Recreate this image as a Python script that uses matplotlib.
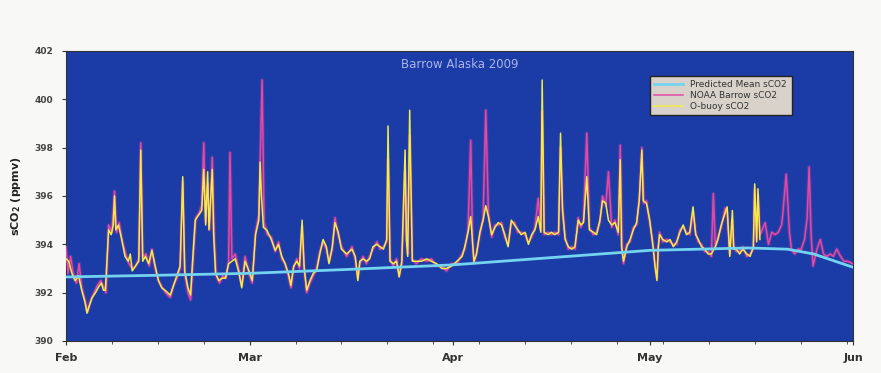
import matplotlib
matplotlib.use("Agg")
import matplotlib.pyplot as plt
import matplotlib.dates as mdates
import numpy as np
import pandas as pd

START = pd.Timestamp("2009-02-01")

# Predicted mean sCO2 (day offset from Feb 1, ppmv)
mean_days = [0, 14, 28, 42, 59, 74, 89, 104, 110, 114, 120]
mean_vals = [392.65, 392.72, 392.8, 392.95, 393.15, 393.45, 393.75, 393.85, 393.8, 393.6, 393.05]

# O-buoy sCO2 (day offset, ppmv)
obuoy_days = [
    0.0, 0.4, 0.9, 1.4, 1.9, 2.4, 2.9, 3.2, 3.6, 4.0, 4.5, 5.0, 5.4, 5.7, 6.0, 6.5, 6.9, 7.2, 7.4, 7.6,
    8.0, 8.5, 9.0, 9.5, 9.8, 10.1, 10.6, 11.1, 11.4, 11.7, 12.1, 12.6, 13.1, 13.6, 14.1, 14.6, 15.1,
    15.5, 15.9, 16.4, 16.9, 17.4, 17.8, 18.1, 18.6, 19.0, 19.3, 19.7, 20.2, 20.7, 21.0, 21.3, 21.6,
    21.8, 22.3, 22.5, 22.8, 23.3, 23.8, 24.3, 24.8, 25.3, 25.8, 26.3, 26.8, 27.3, 27.9, 28.4, 28.9,
    29.4, 29.6, 29.8, 30.1, 30.6, 31.3, 31.9, 32.4, 32.9, 33.4, 33.9, 34.3, 34.7, 35.2, 35.6, 36.0,
    36.3, 36.7, 37.2, 37.7, 38.2, 38.7, 39.2, 39.7, 40.1, 40.6, 41.0, 41.5, 42.0, 42.8, 43.6, 44.1,
    44.5, 44.8, 45.3, 45.8, 46.3, 46.8, 47.4, 47.9, 48.4, 48.9, 49.1, 49.4, 49.9, 50.4, 50.8, 51.2,
    51.7, 51.9, 52.1, 52.4, 52.8, 53.4, 54.2, 55.0, 55.7, 56.5, 57.3, 58.0, 58.8, 59.6, 60.4, 60.8,
    61.3, 61.7, 62.2, 62.6, 63.1, 63.6, 64.0, 64.4, 64.9, 65.4, 65.9, 66.4, 66.9, 67.4, 67.9, 68.4,
    68.9, 69.4, 70.0, 70.5, 71.0, 71.5, 72.0, 72.4, 72.6, 72.9, 73.5, 74.0, 74.5, 75.1, 75.4, 75.7,
    76.1, 76.6, 77.1, 77.6, 78.1, 78.5, 78.9, 79.4, 79.8, 80.4, 80.9, 81.4, 81.8, 82.3, 82.7, 83.2,
    83.7, 84.2, 84.5, 84.7, 85.0, 85.5, 86.0, 86.5, 87.0, 87.4, 87.8, 88.0, 88.5, 89.0, 89.5, 89.8,
    90.1, 90.3, 90.5, 91.0, 91.6, 92.1, 92.6, 93.1, 93.6, 94.1, 94.6, 95.1, 95.6, 96.0, 96.4, 96.9,
    97.4, 97.9, 98.4, 99.0, 99.4, 99.9, 100.5, 100.8, 101.2, 101.6, 101.8, 102.2, 102.7, 103.2,
    103.8, 104.3, 104.8, 105.0, 105.3, 105.5, 105.8,
]
obuoy_vals = [
    393.4, 393.3, 392.8, 392.5, 392.7, 392.1, 391.6, 391.15, 391.5, 391.8, 392.0, 392.25, 392.4, 392.1,
    392.1, 394.6, 394.4, 394.8, 396.0, 394.6, 394.8, 394.2, 393.5, 393.3, 393.6, 392.9, 393.1, 393.3,
    397.9, 393.3, 393.5, 393.2, 393.75, 393.1, 392.5, 392.2, 392.1, 392.0, 391.9, 392.3, 392.7, 393.1,
    396.8, 392.9, 392.2, 391.9, 393.3, 395.0, 395.2, 395.4, 397.1, 394.8, 397.0, 394.6, 397.1, 394.5,
    392.8, 392.5, 392.6, 392.6, 393.2, 393.3, 393.4, 392.9, 392.2, 393.3, 392.9, 392.5, 394.4, 395.0,
    397.4, 396.0, 394.7, 394.6, 394.2, 393.75, 394.0, 393.5, 393.2, 392.8, 392.3, 393.1, 393.3, 393.1,
    395.0, 393.1, 392.1, 392.5, 392.8, 392.9, 393.6, 394.2, 393.9, 393.2, 393.9, 394.9, 394.5, 393.8,
    393.6, 393.8, 393.5, 392.5, 393.3, 393.4, 393.3, 393.4, 393.9, 394.0, 393.9, 393.8, 394.2, 398.9,
    393.3, 393.2, 393.3, 392.65, 393.3, 397.9, 394.2, 393.5, 399.55, 393.3, 393.3, 393.3, 393.4, 393.3,
    393.2, 393.0, 393.0, 393.1, 393.3, 393.5, 393.9, 394.5, 395.15, 393.3, 393.6, 394.5, 395.0, 395.6,
    395.15, 394.4, 394.7, 394.9, 394.8, 394.4, 393.9, 395.0, 394.8, 394.6, 394.4, 394.5, 394.0, 394.4,
    394.6, 395.15, 394.5, 400.8, 394.5, 394.4, 394.5, 394.4, 394.5, 398.6, 395.4, 394.2, 393.9, 393.8,
    393.9, 395.0, 394.8, 394.9, 396.8, 394.6, 394.5, 394.4, 395.0, 395.8, 395.7, 395.0, 394.8, 394.9,
    394.5, 397.5, 393.9, 393.3, 393.9, 394.2, 394.6, 394.9, 395.8, 397.9, 395.8, 395.7, 395.0, 393.9,
    393.1, 392.5, 393.9, 394.4, 394.2, 394.1, 394.2, 393.9, 394.1, 394.5, 394.8, 394.4, 394.5, 395.55,
    394.4, 394.2, 393.9, 393.8, 393.6, 393.6, 393.9, 394.2, 394.8, 395.3, 395.55, 393.5, 395.4, 393.8,
    393.8, 393.6, 393.8, 393.6, 393.5, 393.9, 396.5, 394.1, 396.3, 394.2,
]

# NOAA Barrow sCO2 (day offset, ppmv)
noaa_days = [
    0.0, 0.3, 0.7, 1.2, 1.6, 2.0, 2.4, 2.9, 3.3, 3.8, 4.3, 4.8, 5.3, 5.8, 6.1, 6.5, 7.0, 7.4, 7.7, 8.1,
    8.6, 9.1, 9.6, 10.1, 10.6, 11.1, 11.4, 11.7, 12.2, 12.7, 13.1, 13.6, 14.1, 14.7, 15.2, 15.9, 16.4,
    16.9, 17.4, 17.8, 18.1, 18.6, 19.0, 19.4, 19.8, 20.3, 20.7, 21.0, 21.3, 21.6, 21.9, 22.3, 22.6,
    22.9, 23.4, 23.9, 24.4, 24.8, 25.0, 25.3, 25.8, 26.3, 26.8, 27.3, 27.9, 28.4, 28.9, 29.4, 29.9,
    30.2, 30.7, 31.3, 31.9, 32.4, 32.9, 33.4, 33.9, 34.3, 34.7, 35.2, 35.6, 36.0, 36.3, 36.7, 37.2,
    37.7, 38.2, 38.7, 39.2, 39.7, 40.1, 40.6, 41.0, 41.5, 42.0, 42.8, 43.6, 44.1, 44.5, 44.8, 45.3,
    45.8, 46.3, 46.8, 47.4, 47.9, 48.4, 48.9, 49.1, 49.4, 49.9, 50.4, 50.8, 51.2, 51.7, 51.9, 52.1,
    52.4, 52.8, 53.4, 54.2, 55.0, 55.7, 56.5, 57.3, 58.0, 58.8, 59.6, 60.4, 60.8, 61.3, 61.7, 62.0,
    62.2, 62.6, 63.1, 63.6, 64.0, 64.4, 64.9, 65.4, 65.9, 66.4, 66.9, 67.4, 67.9, 68.4, 68.9, 69.4,
    70.0, 70.5, 71.0, 71.5, 72.0, 72.4, 72.6, 72.9, 73.5, 74.0, 74.5, 75.1, 75.4, 75.7, 76.1, 76.6,
    77.1, 77.6, 78.1, 78.5, 78.9, 79.4, 79.8, 80.4, 80.9, 81.4, 81.8, 82.3, 82.7, 83.2, 83.7, 84.2,
    84.5, 84.8, 85.0, 85.5, 86.0, 86.5, 87.0, 87.4, 87.8, 88.1, 88.5, 89.0, 89.5, 89.8, 90.1, 90.3,
    90.5, 91.0, 91.6, 92.1, 92.6, 93.1, 93.6, 94.1, 94.6, 95.1, 95.6, 96.0, 96.4, 96.9, 97.4, 97.9,
    98.4, 98.7, 99.0, 99.4, 99.9, 100.5, 100.8, 101.2, 101.6, 101.8, 102.2, 102.7, 103.2, 103.8,
    104.3, 104.8, 105.0, 105.3, 105.5, 105.8, 106.0, 106.6, 107.1, 107.6, 108.1, 108.6, 109.1, 109.3,
    109.8, 110.3, 110.6, 111.1, 111.6, 112.1, 112.6, 113.0, 113.3, 113.6, 113.9, 114.5, 115.0, 115.5,
    116.0, 116.5, 117.0, 117.5, 118.1, 118.6, 119.2, 119.9,
]
noaa_vals = [
    393.9, 392.8, 393.5, 392.6, 392.4, 393.2, 392.2, 391.7, 391.2, 391.7, 392.0, 392.3, 392.5, 392.2,
    392.0, 394.8, 394.5, 396.2, 394.5, 394.9, 394.1, 393.6, 393.2, 393.0, 393.1, 393.4, 398.2, 393.5,
    393.6, 393.1, 393.8, 393.0, 392.5, 392.2, 392.0, 391.8, 392.3, 392.6, 393.0, 396.6, 392.8, 392.0,
    391.7, 393.5, 395.1, 395.3, 395.6, 398.2, 394.9, 396.5, 394.6, 397.6, 394.3, 392.7, 392.4, 392.7,
    392.6, 393.3, 397.8, 393.4, 393.6, 393.0, 392.3, 393.5, 392.8, 392.4, 394.5, 395.2, 400.8, 394.9,
    394.4, 394.3, 393.7, 394.1, 393.4, 393.2, 392.7, 392.2, 393.0, 393.4, 393.0, 394.7, 393.0, 392.0,
    392.4, 392.7, 393.0, 393.7, 394.1, 393.8, 393.3, 393.8, 395.1, 394.4, 393.9, 393.5, 393.9, 393.4,
    392.6, 393.2, 393.5, 393.2, 393.5, 393.8, 394.1, 393.8, 393.9, 394.1, 397.5, 393.4, 393.1, 393.4,
    392.7, 393.2, 397.0, 394.5, 393.6, 398.5, 393.4, 393.2, 393.4, 393.3, 393.4, 393.1, 393.1, 392.9,
    393.2, 393.2, 393.6, 393.8, 394.6, 398.3, 394.0, 393.2, 393.7, 394.4, 395.1, 399.55, 395.3, 394.3,
    394.8, 394.8, 394.9, 394.3, 394.0, 394.9, 394.9, 394.5, 394.5, 394.4, 394.1, 394.3, 394.7, 395.9,
    394.6, 399.5, 394.4, 394.5, 394.4, 394.5, 394.4, 398.0, 395.6, 394.3, 393.8, 393.9, 393.8, 395.1,
    394.7, 395.0, 398.6, 394.7, 394.4, 394.5, 394.9, 396.0, 395.6, 397.0, 394.7, 395.0, 394.4, 398.1,
    393.8, 393.2, 394.0, 394.1, 394.7, 394.8, 395.9, 398.0, 395.7, 395.8, 394.9, 394.0, 393.2, 392.6,
    393.8, 394.5, 394.1, 394.2, 394.1, 394.0, 394.0, 394.6, 394.7, 394.5, 394.4, 395.3, 394.5, 394.1,
    394.0, 393.7, 393.7, 393.5, 396.1, 393.9, 394.3, 394.7, 395.5, 395.3, 393.6, 395.0, 393.9, 393.7,
    393.7, 393.9, 393.5, 393.6, 393.8, 396.3, 394.2, 396.0, 394.4, 394.5, 394.9, 394.0, 394.5, 394.4,
    394.5, 394.8, 395.3, 396.9, 394.5, 393.8, 393.6, 393.8, 393.8, 394.2, 395.1, 397.2, 394.4, 393.1,
    393.8, 394.2, 393.6, 393.5, 393.6, 393.5, 393.8, 393.5, 393.3, 393.3, 393.2,
]

y_ticks = [390, 392, 394, 396, 398, 400, 402]
month_labels = ["Feb", "Mar", "Apr", "May", "Jun"]


def to_dates(days):
    return START + pd.to_timedelta(np.asarray(days, dtype=float), unit="D")


BG = "#1b3ca6"

fig = plt.figure(figsize=(8.81, 3.73), dpi=100)
fig.patch.set_facecolor("#f8f8f6")
ax = fig.add_axes([0.0749, 0.0858, 0.8934, 0.7775])
ax.set_facecolor(BG)

# soft glow under the NOAA trace, then the traces
ax.plot(to_dates(noaa_days), noaa_vals, color="#d83c9c", lw=2.6, alpha=0.3, zorder=2)
ax.plot(to_dates(noaa_days), noaa_vals, color="#e24aa6", lw=1.1, zorder=3,
        label="NOAA Barrow sCO2")
ax.plot(to_dates(obuoy_days), obuoy_vals, color="#f2ec46", lw=1.1, zorder=4,
        label="O-buoy sCO2")
ax.plot(to_dates(mean_days), mean_vals, color="#74d4f0", lw=2.0, zorder=5,
        label="Predicted Mean sCO2")

ax.set_ylim(390, 402)
ax.set_yticks(y_ticks)
ax.set_yticklabels([str(v) for v in y_ticks], fontsize=6.5, fontweight="bold", color="#444444")
ax.set_ylabel("sCO$_\\mathbf{2}$ (ppmv)", fontsize=8, fontweight="bold", color="#222222", labelpad=8)

ax.set_xlim(START, pd.Timestamp("2009-06-01"))
month_ticks = pd.date_range("2009-02-01", "2009-06-01", freq="MS")
ax.set_xticks(month_ticks)
ax.set_xticklabels(month_labels, fontsize=8, fontweight="bold", color="#333333")
ax.xaxis.set_minor_locator(mdates.WeekdayLocator(byweekday=mdates.SU))
ax.tick_params(axis="x", which="minor", length=2, color="#333333")
ax.tick_params(axis="both", which="major", length=3, color="#333333", pad=6)
for s in ax.spines.values():
    s.set_color("#333333")
    s.set_linewidth(0.8)

ax.text(0.5, 0.952, "Barrow Alaska 2009", transform=ax.transAxes, ha="center", va="center",
        fontsize=8.5, color="#a9b4e8")

handles, labels = ax.get_legend_handles_labels()
order = [2, 0, 1]
leg = ax.legend([handles[i] for i in order], [labels[i] for i in order],
                loc="upper left", bbox_to_anchor=(0.736, 0.93), fontsize=6.5,
                frameon=True, fancybox=False, handlelength=3.2, borderpad=0.5,
                labelspacing=0.2)
leg.get_frame().set_facecolor("#d8d2cb")
leg.get_frame().set_edgecolor("#222222")
leg.get_frame().set_alpha(1.0)
for t in leg.get_texts():
    t.set_color("#333333")

fig.savefig("out.png", dpi=100, facecolor=fig.get_facecolor())
